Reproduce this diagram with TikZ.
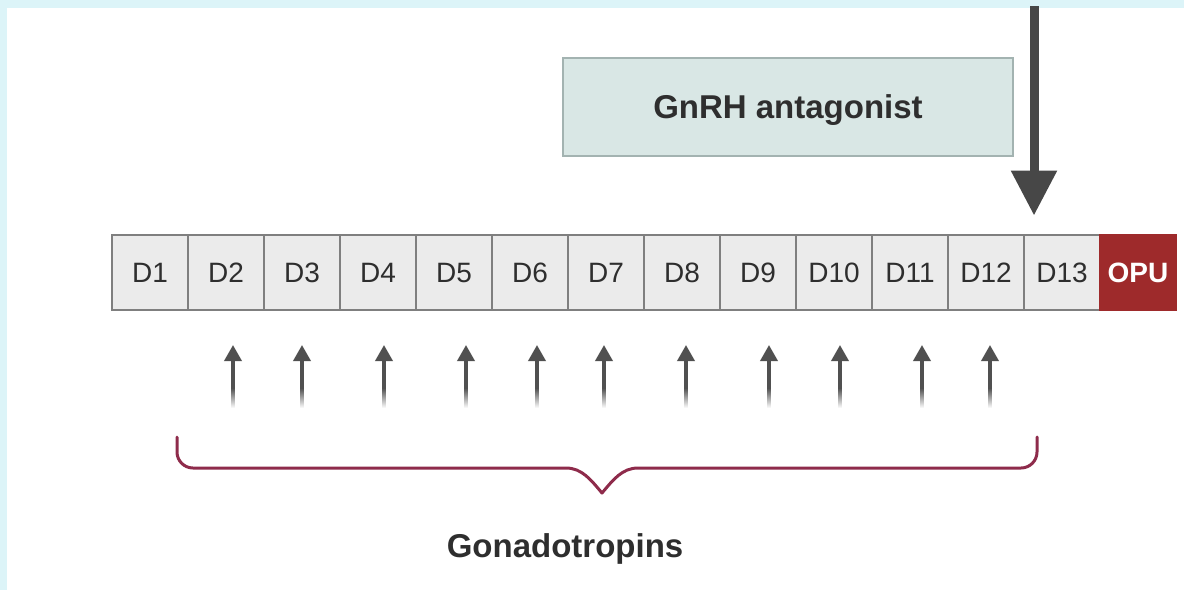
\documentclass[tikz,border=0pt]{standalone}
\usepackage{fontspec}
\setmainfont{Liberation Sans}
\usetikzlibrary{arrows.meta}

\definecolor{edgecyan}{HTML}{DCF4F8}
\definecolor{cellfill}{HTML}{EBEBEB}
\definecolor{cellline}{HTML}{7F7F7F}
\definecolor{labelgrey}{HTML}{2E2E2E}
\definecolor{opured}{HTML}{9E2A2B}
\definecolor{boxfill}{HTML}{D9E7E5}
\definecolor{boxline}{HTML}{A3B3B1}
\definecolor{arrowgrey}{HTML}{474747}
\definecolor{tickgrey}{HTML}{505050}
\definecolor{bracered}{HTML}{8E2B4B}

\tikzset{
  daycell/.style={rectangle, draw=cellline, fill=cellfill, line width=2pt,
    minimum width=76pt, minimum height=75pt, inner sep=0pt,
    text height=20pt, text depth=0pt,
    font=\fontsize{28}{32}\selectfont, text=labelgrey},
  opucell/.style={daycell, fill=opured, draw=opured, text=white,
    font=\fontsize{28}{32}\selectfont\bfseries},
  drugbox/.style={rectangle, draw=boxline, fill=boxfill, line width=1.5pt,
    minimum width=450pt, minimum height=98pt, inner sep=0pt},
  boldlabel/.style={font=\fontsize{33}{38}\selectfont\bfseries, text=labelgrey, inner sep=0pt},
  bigarrow/.style={draw=arrowgrey, line width=9pt,
    -{Triangle[width=44pt,length=45pt]}, arrowgrey},
  smallarrow/.style={draw=tickgrey, line width=3.5pt,
    -{Triangle[width=17pt,length=16pt]}, tickgrey},
  bracepath/.style={draw=bracered, line width=3pt, line cap=round, line join=round}
}

\begin{document}
\begin{tikzpicture}[x=1pt,y=-1pt]
\useasboundingbox (0,0) rectangle (1184,590);

% frame strips along the top and left
\fill[edgecyan] (0,0) rectangle (1184,8);
\fill[edgecyan] (0,0) rectangle (7,590);

% day cells and retrieval cell
\foreach \i in {1,...,13}
  \node[daycell] (d\i) at ({112+76*(\i-0.5)},272) {D\i};
\node[opucell] (opu) at ({112+76*13.5},272) {OPU};

% antagonist box
\node[drugbox] (gnrh) at (788,107) {};
\node[boldlabel, anchor=base] (gnrhtext) at (788,118) {GnRH antagonist};

% trigger arrow from the top
\coordinate (trig) at (1034,6);
\draw[bigarrow, shorten >=18pt] (trig) -- (trig |- d13.north);

% daily gonadotropin injections, tails fading out
\foreach \x [count=\k from 2] in {233,302,384,466,537,604,686,769,840,922,990} {
  \coordinate (inj\k) at (\x,389);
  \coordinate (tip\k) at (\x,345);
  \draw[smallarrow] (inj\k) -- (tip\k);
  \shade[top color=tickgrey, bottom color=white] (\x-1.75,388) rectangle (\x+1.75,408);
}

% brace under the injections
\draw[bracepath] (177,437) -- (177,452) arc[start angle=180, end angle=90, radius=16]
  -- (566,468) .. controls (582,468) and (591,480) .. (602,493)
  .. controls (613,480) and (622,468) .. (638,468)
  -- (1021,468) arc[start angle=90, end angle=0, radius=16] -- (1037,437);

\node[boldlabel, anchor=base] (gonad) at (565,557) {Gonadotropins};
\end{tikzpicture}
\end{document}
